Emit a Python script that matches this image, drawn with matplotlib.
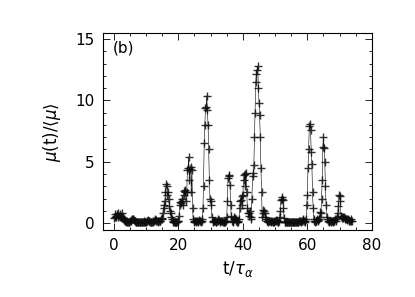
import numpy as np
import matplotlib
matplotlib.use("Agg")
import matplotlib.pyplot as plt
from matplotlib.ticker import MultipleLocator

t_start = 0.0
t_step = 0.2
mu_ratio = [
    0.4, 0.5, 0.7, 0.5, 0.6,
    0.7, 0.8, 0.5, 0.6, 0.7,
    0.5, 0.6, 0.8, 0.5, 0.4,
    0.3, 0.25, 0.2, 0.15, 0.1,
    0.1, 0.15, 0.1, 0.05, 0.1,
    0.15, 0.2, 0.25, 0.3, 0.35,
    0.3, 0.25, 0.2, 0.15, 0.1,
    0.1, 0.05, 0.05, 0.1, 0.1,
    0.05, 0.1, 0.1, 0.05, 0.05,
    0.1, 0.1, 0.15, 0.1, 0.05,
    0.1, 0.15, 0.2, 0.25, 0.2,
    0.15, 0.1, 0.1, 0.05, 0.1,
    0.1, 0.15, 0.2, 0.25, 0.3,
    0.25, 0.2, 0.15, 0.1, 0.15,
    0.2, 0.15, 0.2, 0.3, 0.35,
    0.4, 0.8, 1.2, 1.5, 1.8,
    2.5, 3.2, 3.0, 2.3, 2.5,
    2.0, 1.4, 1.0, 0.8, 0.5,
    0.3, 0.2, 0.1, 0.1, 0.05,
    0.1, 0.05, 0.1, 0.1, 0.15,
    0.2, 0.6, 1.5, 1.7, 1.6,
    1.8, 2.0, 1.5, 2.3, 2.6,
    2.5, 2.7, 1.8, 2.5, 4.3,
    4.5, 5.4, 3.5, 4.4, 4.6,
    2.5, 4.3, 1.2, 0.3, 0.2,
    0.1, 0.15, 0.1, 0.2, 0.15,
    0.1, 0.2, 0.25, 0.2, 0.15,
    0.1, 0.2, 0.3, 1.2, 3.0,
    6.5, 8.0, 9.4, 9.5, 10.4,
    9.2, 8.0, 6.0, 3.5, 2.0,
    1.8, 1.5, 0.5, 0.2, 0.1,
    0.15, 0.2, 0.15, 0.1, 0.1,
    0.15, 0.2, 0.3, 0.25, 0.2,
    0.1, 0.15, 0.2, 0.15, 0.1,
    0.05, 0.1, 0.15, 0.1, 0.2,
    0.5, 1.8, 3.7, 3.9, 3.8,
    3.1, 1.5, 0.6, 0.2, 0.1,
    0.2, 0.3, 0.5, 0.4, 0.3,
    0.2, 0.1, 0.1, 0.15, 0.3,
    1.2, 1.8, 1.9, 2.2, 1.5,
    2.3, 3.5, 3.9, 4.0, 3.0,
    4.1, 2.5, 1.2, 0.8, 0.6,
    0.8, 1.0, 0.5, 0.3, 2.0,
    3.8, 4.1, 4.7, 7.0, 9.0,
    11.5, 12.2, 12.5, 12.8, 11.0,
    9.8, 8.8, 7.0, 4.5, 2.5,
    0.5, 0.8, 1.1, 1.0, 0.8,
    0.5, 0.3, 0.2, 0.15, 0.1,
    0.15, 0.2, 0.15, 0.1, 0.15,
    0.2, 0.1, 0.05, 0.1, 0.15,
    0.2, 0.25, 0.2, 0.15, 0.1,
    0.1, 0.2, 0.5, 1.0, 1.9,
    2.0, 2.1, 1.9, 1.2, 0.4,
    0.1, 0.05, 0.05, 0.05, 0.05,
    0.05, 0.05, 0.05, 0.05, 0.05,
    0.05, 0.05, 0.05, 0.05, 0.05,
    0.05, 0.05, 0.1, 0.05, 0.05,
    0.05, 0.1, 0.15, 0.2, 0.15,
    0.1, 0.15, 0.2, 0.3, 0.25,
    0.2, 0.1, 0.15, 0.3, 1.5,
    2.3, 4.5, 6.0, 7.9, 8.1,
    7.6, 5.8, 4.8, 2.5, 1.2,
    0.3, 0.2, 0.1, 0.15, 0.2,
    0.3, 0.25, 0.2, 0.3, 0.5,
    0.9, 0.8, 2.0, 3.5, 6.2,
    7.0, 6.1, 5.0, 3.0, 1.5,
    0.5, 0.3, 0.2, 0.15, 0.1,
    0.15, 0.2, 0.1, 0.15, 0.2,
    0.1, 0.15, 0.2, 0.3, 0.2,
    0.3, 0.5, 0.8, 1.4, 2.3,
    2.2, 1.8, 0.6, 0.5, 0.4,
    0.5, 0.4, 0.45, 0.35, 0.4,
    0.3, 0.35, 0.25, 0.3, 0.2,
    0.25, 0.2, 0.3, 0.2, 0.15,
]
t = t_start + t_step * np.arange(len(mu_ratio))

xticks = [0, 20, 40, 60, 80]
yticks = [0, 5, 10, 15]

fig = plt.figure(figsize=(4.15, 2.97), dpi=100)
ax = fig.add_axes([0.248, 0.2256, 0.648, 0.663])
ax.plot(t, mu_ratio, color="black", lw=0.4, marker="+", ms=5.5, mew=1.0,
        markeredgecolor=(0.05, 0.05, 0.05, 0.85))
ax.set_xlim(-3.4, 80)
ax.set_ylim(-0.57, 15.5)
ax.set_xticks(xticks)
ax.set_yticks(yticks)
ax.xaxis.set_minor_locator(MultipleLocator(5))
ax.yaxis.set_minor_locator(MultipleLocator(1))
ax.tick_params(which="both", direction="in", top=True, right=True, labelsize=11, pad=6)
ax.tick_params(which="major", length=5, width=0.6)
ax.tick_params(which="minor", length=2.5, width=0.6)
for s in ax.spines.values():
    s.set_linewidth(0.8)
ax.text(-0.3, 14.3, "(b)", fontsize=11, va="center", ha="left")
ax.set_xlabel(r"t/$\tau_\alpha$", fontsize=12)
ax.set_ylabel(r"$\mu$(t)/$\langle\mu\rangle$", fontsize=12, labelpad=9)
fig.savefig("out.png", dpi=100)
